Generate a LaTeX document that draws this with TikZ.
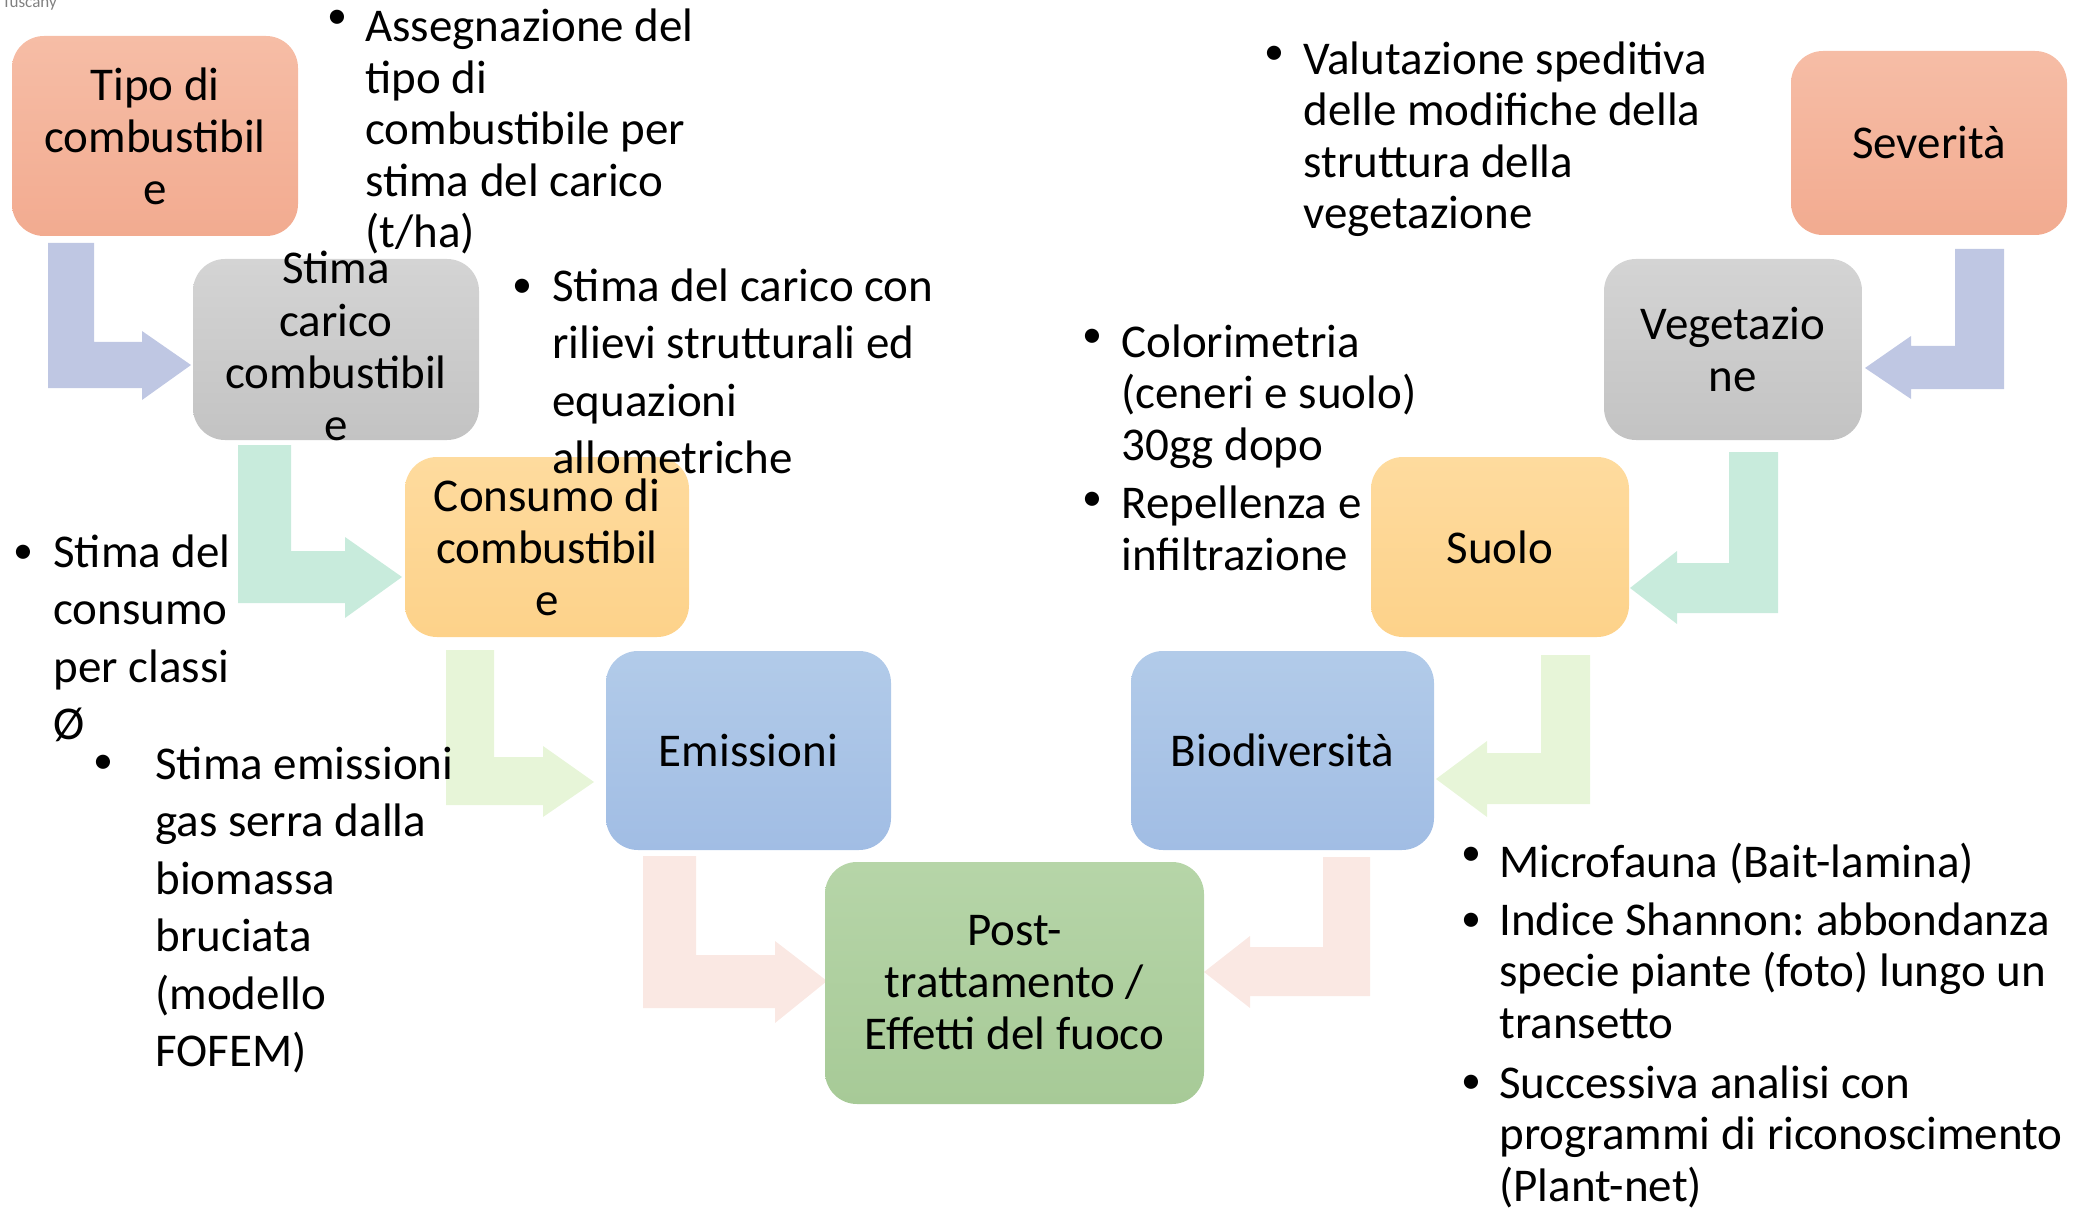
\documentclass[tikz,border=0pt]{standalone}
\usepackage{fontspec}
\setmainfont{Carlito}
\usepackage{tikz}
\frenchspacing

\definecolor{salmonA}{HTML}{F6BDA6}
\definecolor{salmonB}{HTML}{F2AB90}
\definecolor{greyA}{HTML}{D4D4D4}
\definecolor{greyB}{HTML}{C3C3C3}
\definecolor{orangeA}{HTML}{FEDB9E}
\definecolor{orangeB}{HTML}{FDD28A}
\definecolor{blueA}{HTML}{B2CBE9}
\definecolor{blueB}{HTML}{A1BDE4}
\definecolor{greenA}{HTML}{B6D5A8}
\definecolor{greenB}{HTML}{A7CA97}
\definecolor{lav}{HTML}{BFC7E3}
\definecolor{mint}{HTML}{C8EBDC}
\definecolor{lgreen}{HTML}{E7F5D8}
\definecolor{pink}{HTML}{FAE8E3}

\begin{document}
\begin{tikzpicture}[x=0.5pt,y=-0.5pt,
	box/.style={rounded corners=16pt,inner sep=0pt,align=center,font=\fontsize{23.5}{26}\selectfont},
	txt/.style={anchor=base west,align=left,inner sep=0pt,font=\fontsize{23.5}{25.75}\selectfont},
	wide/.style={font=\fontsize{23.5}{28.75}\selectfont},
	dot/.style={anchor=base,inner sep=0pt,font=\fontsize{20}{20}\selectfont}]
\useasboundingbox (0,0) rectangle (2086,1208);

\node[anchor=base west,inner sep=0pt,text=gray,font=\fontsize{8.5}{10}\selectfont] (tag) at (2,8) {Tuscany};

\fill[lav] (48,243) -- (94,243) -- (94,342) -- (142,342) -- (142,331) -- (191,365) -- (142,400) -- (142,388) -- (48,388) -- cycle;
\fill[mint] (238,445) -- (291,445) -- (291,551) -- (345,551) -- (345,537) -- (402,577) -- (345,618) -- (345,603) -- (238,603) -- cycle;
\fill[lgreen] (446,650) -- (494,650) -- (494,757) -- (543,757) -- (543,746) -- (594,782) -- (543,817) -- (543,805) -- (446,805) -- cycle;
\fill[pink] (643,856) -- (696,856) -- (696,955) -- (775,955) -- (775,941) -- (827,981) -- (775,1023) -- (775,1008) -- (643,1008) -- cycle;
\fill[lav] (2004,249) -- (1955,249) -- (1955,346) -- (1911,346) -- (1911,336) -- (1865,368) -- (1911,399) -- (1911,389) -- (2004,389) -- cycle;
\fill[mint] (1778,452) -- (1729,452) -- (1729,563) -- (1677,563) -- (1677,551) -- (1630,588) -- (1677,624) -- (1677,613) -- (1778,613) -- cycle;
\fill[lgreen] (1590,655) -- (1541,655) -- (1541,753) -- (1487,753) -- (1487,741) -- (1436,779) -- (1487,817) -- (1487,804) -- (1590,804) -- cycle;
\fill[pink] (1370,857) -- (1323,857) -- (1323,947) -- (1250,947) -- (1250,936) -- (1204,972) -- (1250,1008) -- (1250,996) -- (1370,996) -- cycle;

\node[box,top color=salmonA,bottom color=salmonB,minimum width=143pt,minimum height=100pt] (tipo) at (155,136) {Tipo di\\combustibil\\e};
\node[box,top color=greyA,bottom color=greyB,minimum width=143pt,minimum height=90.5pt,text height=90.5pt,text depth=0pt] (carico) at (336,349.5) {Stima\\carico\\combustibil\\e};
\node[box,top color=orangeA,bottom color=orangeB,minimum width=142pt,minimum height=90pt] (consumo) at (547,547) {Consumo di\\combustibil\\e};
\node[box,top color=blueA,bottom color=blueB,minimum width=142.5pt,minimum height=99.5pt] (emissioni) at (748.5,750.5) {Emissioni};
\node[box,top color=greenA,bottom color=greenB,minimum width=189.5pt,minimum height=121pt] (post) at (1014.5,983) {Post-\\trattamento /\\Effetti del fuoco};
\node[box,top color=blueA,bottom color=blueB,minimum width=151.5pt,minimum height=99.5pt] (biodiv) at (1282.5,750.5) {Biodiversità};
\node[box,top color=orangeA,bottom color=orangeB,minimum width=129pt,minimum height=90pt] (suolo) at (1500,547) {Suolo};
\node[box,top color=greyA,bottom color=greyB,minimum width=129pt,minimum height=90.5pt] (veget) at (1733,349.5) {Vegetazio\\ne};
\node[box,top color=salmonA,bottom color=salmonB,minimum width=138pt,minimum height=92pt] (sever) at (1929,143) {Severità};

\node[dot] (d1) at (337,29) {•};
\node[txt] (t1) at (365,248) {Assegnazione del\\tipo di\\combustibile per\\stima del carico\\(t/ha)};
\node[dot] (d2) at (522,298) {•};
\node[txt,wide] (t2) at (552,473.5) {Stima del carico con\\rilievi strutturali ed\\equazioni\\allometriche};
\node[dot] (d3) at (23,563) {•};
\node[txt,wide] (t3) at (53,739.5) {Stima del\\consumo\\per classi\\Ø};
\node[dot] (d4) at (103,773) {•};
\node[txt,wide] (t4) at (155,1066.5) {Stima emissioni\\gas serra dalla\\biomassa\\bruciata\\(modello\\FOFEM)};
\node[dot] (d5) at (1274,65) {•};
\node[txt] (t5) at (1303,229) {Valutazione speditiva\\delle modifiche della\\struttura della\\vegetazione};
\node[dot] (d6) at (1092,348) {•};
\node[txt] (t6) at (1121,460) {Colorimetria\\(ceneri e suolo)\\30gg dopo};
\node[dot] (d7) at (1092,510) {•};
\node[txt] (t7) at (1121,570) {Repellenza e\\infiltrazione};
\node[dot] (d8) at (1471,865) {•};
\node[txt] (t8) at (1499,877) {Microfauna (Bait-lamina)};
\node[dot] (d9) at (1471,931) {•};
\node[txt] (t9) at (1499,1038) {Indice Shannon: abbondanza\\specie piante (foto) lungo un\\transetto};
\node[dot] (d10) at (1471,1093) {•};
\node[txt] (t10) at (1499,1201) {Successiva analisi con\\programmi di riconoscimento\\(Plant-net)};
\end{tikzpicture}
\end{document}
